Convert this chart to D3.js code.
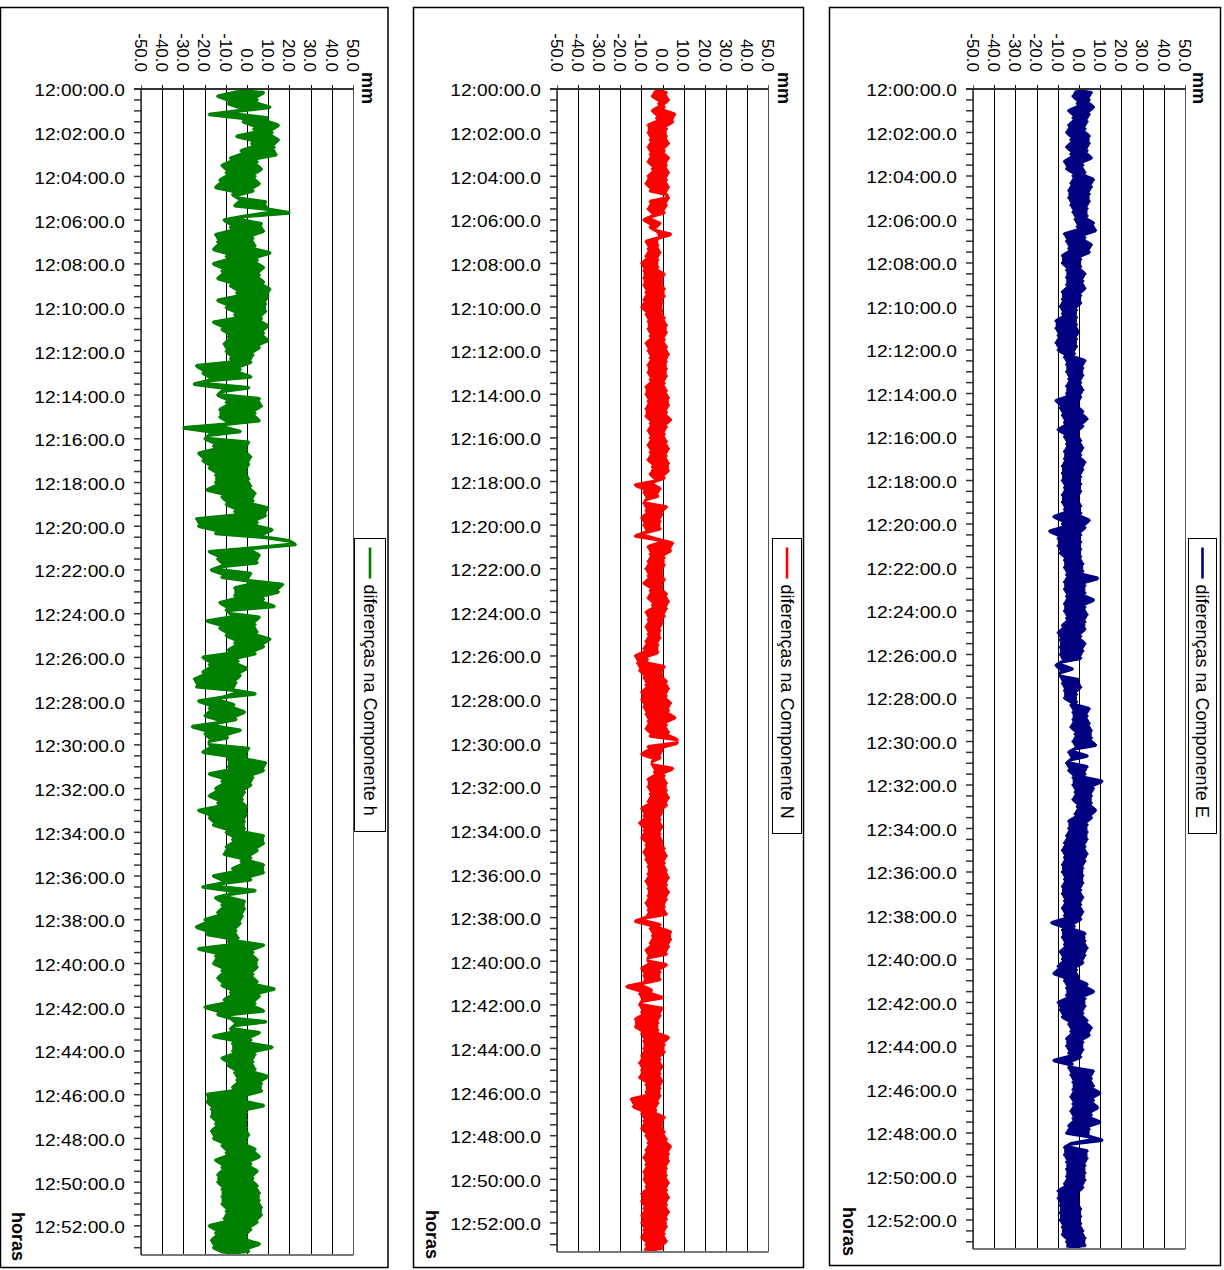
<!DOCTYPE html>
<html>
<head>
<meta charset="utf-8">
<script src="https://cdn.jsdelivr.net/npm/d3@7"></script>
<style>
  body { margin: 0; background: #fff; }
  text { font-family: "Liberation Sans", Arial, sans-serif; fill: #000; }
</style>
</head>
<body>
<div id="chart"></div>
<script>
// sample interval of the series, seconds (12:00:00 .. 12:53:20)
const stepSec = 10;
const endSec = 3200;

const valueTicks = [-50, -40, -30, -20, -10, 0, 10, 20, 30, 40, 50];
const timeTicks = ["12:00:00.0", "12:02:00.0", "12:04:00.0", "12:06:00.0", "12:08:00.0",
  "12:10:00.0", "12:12:00.0", "12:14:00.0", "12:16:00.0", "12:18:00.0", "12:20:00.0",
  "12:22:00.0", "12:24:00.0", "12:26:00.0", "12:28:00.0", "12:30:00.0", "12:32:00.0",
  "12:34:00.0", "12:36:00.0", "12:38:00.0", "12:40:00.0", "12:42:00.0", "12:44:00.0",
  "12:46:00.0", "12:48:00.0", "12:50:00.0", "12:52:00.0"];

const seriesNames = ["diferenças na Componente h", "diferenças na Componente N", "diferenças na Componente E"];
const seriesColors = ["#008000", "#ff0000", "#000080"];

// differences in mm, one value every 10 s (one row = one minute)
const hVals = [
  -6, 8, -14, 5, -9, 11,   -4, -18, 10, -2, 15, 3,   12, -5, 15, 2, 13, -3,
  14, -8, 5, -12, 7, -10,  4, -13, 6, -15, 3, -7,    -4, 9, -6, 10, 20, -2,
  -11, 7, -8, 8, -15, 3,   -14, 4, -16, 11, -10, 5,  -16, 8, -12, 6, -14, 8,
  -8, 11, -5, 10, -14, 9,  -10, 9, -6, 7, -16, 10,   -12, 8, -9, 10, -11, 6,
  -10, 3, -8, 2, -24, -3,  -21, 2, -18, -25, 1, -12, -14, 6, -10, 7, -13, 4,
  -13, 6, -10, -30, -3, -18, -20, 1, -16, 0, -23, 2, -21, 1, -18, 0, -15, 1,
  -15, 2, -19, 4, -12, 3,  -10, 10, -6, 9, -24, 5,   -23, 12, -15, 8, 20, 23,
  3, -18, 6, -14, 5, -12,  -17, 2, -12, 1, 17, -6,   15, -6, 8, -13, 13, -10,
  -8, 6, -19, 4, -13, 5,   -10, 11, -6, 8, -9, 4,    -21, -4, -18, 0, -21, -3,
  -25, -5, -24, -6, 4, -12, -23, -6, -18, -1, -20, -5, -14, -26, -3, -20, -9, -18,
  -18, 1, -21, 0, -9, 9,   -9, 8, -18, 3, -12, 2,    -15, -1, -18, -2, -14, 0,
  -23, 0, -18, -1, -16, -1, -10, 8, -7, 8, -10, 5,   -11, 2, -3, 8, -7, 8,
  -16, 2, -12, -21, 4, -8, -15, -1, -12, -1, -14, -2, -20, -3, -24, -5, -19, -4,
  -9, 8, -23, 3, -15, 5,   -16, 5, -12, 3, -14, 5,   -12, 13, -8, 6, -11, 4,
  -20, 8, -14, -8, 9, -6,  -8, 6, -16, 2, -7, 12,    -7, 4, -12, 3, -9, 4,
  -6, 10, -5, 7, -7, 7,    -19, 0, -19, 8, -17, 0,   -17, 0, -15, 0, -17, 1,
  -16, 0, -12, 4, -10, 6,  -15, 2, -12, 5, -14, 3,   -14, 5, -12, 6, -12, 6,
  -12, 7, -10, 7, -11, 5,  -18, 2, -15, 0, -17, 6,   -16, 1, -12
];

const nVals = [
  -4, 2, -5, 3, -2, 1,     -5, 6, -3, 5, -7, 2,      -7, 2, -6, 3, -7, 1,
  -6, 3, -7, 2, -5, 3,     -7, 2, -8, 3, -6, 2,      3, -6, 2, -7, 1, -5,
  -9, -1, -6, -3, 4, -2,   -8, -2, -7, -1, -8, -2,   -10, -2, -9, 1, -9, 0,
  -9, 1, -8, 1, -9, 0,     -10, 0, -8, 1, -7, 2,     -7, 2, -6, 1, -8, 2,
  -7, 3, -6, 2, -7, 2,     -7, 2, -6, 1, -8, 2,      -8, 3, -7, 3, -8, 2,
  -8, 4, -6, 2, -7, 1,     -6, 2, -7, 3, -6, 2,      -7, 3, -5, 3, -6, 1,
  -4, -13, -1, -9, -2, -8, -9, 2, -8, 0, -10, -1,    -9, -1, -8, -13, -2, 5,
  -7, 4, -6, 1, -7, 1,     -8, 0, -7, 1, -9, 0,      -6, 2, -7, 3, -5, 2,
  -8, 1, -7, 0, -8, -1,    -7, -1, -8, -2, -9, -2,   -13, -7, -12, 1, -11, 0,
  -9, 2, -8, 3, -10, 2,    -10, 4, -9, 3, -8, 6,     -7, 2, -8, 3, -6, 7,
  7, -7, 0, -10, -1, -5,   -5, 5, -4, 1, -7, 2,      -7, 2, -6, 3, -7, 2,
  -10, 0, -9, -1, -11, 0,  -9, -1, -10, 0, -8, 1,    -9, 2, -8, 1, -7, 2,
  -7, 3, -8, 2, -7, 3,     -7, 2, -8, 1, -7, 2,      -8, -13, -1, -6, 4, -5,
  4, -6, 3, -8, 2, -7,     -7, 2, -10, -1, -9, -1,   -9, -17, -5, -11, 0, -10,
  -11, 0, -10, -1, -13, -2, -13, -2, -10, 3, -9, 1,  -9, 1, -10, -1, -11, 0,
  -10, -1, -11, 0, -8, -1, -8, -1, -15, -2, -14, -3, -10, 1, -9, 0, -10, 1,
  -8, 2, -7, 4, -8, 3,     -9, 3, -8, 2, -9, 2,      -9, 3, -8, 2, -10, 3,
  -10, 2, -9, 3, -10, 2,   -10, 2, -9, 1, -10, 2,    -8, 0, -9
];

const eVals = [
  -2, 6, -3, 5, -1, 7,     -5, 5, -3, 4, -5, 3,      -6, 5, -4, 5, -6, 4,
  -4, 6, -7, 2, -6, 3,     -3, 7, -4, 6, -5, 5,      -5, 5, -4, 4, -3, 4,
  -2, 7, -1, 8, -7, 3,     -6, 6, -5, 5, -8, 1,      -8, 1, -6, 3, -6, 2,
  -6, 3, -8, 1, -8, 1,     -9, -1, -8, -1, -11, -1,  -11, 0, -10, -1, -11, -1,
  -10, -2, -7, 3, -6, 2,   -6, 2, -5, 1, -6, 2,      -6, 1, -11, 0, -9, 2,
  -8, 4, -7, 2, -10, 0,    -7, 1, -6, 2, -7, 1,      -7, 3, -8, 2, -8, 1,
  -8, 1, -7, 1, -8, 0,     -8, 1, -7, 1, -12, 5,     -8, 3, -14, 1, -10, 1,
  -10, 1, -9, 1, -7, 2,    -7, 2, -6, 9, -7, 3,      -7, 3, -6, 7, -7, 3,
  -7, 4, -6, 3, -8, 3,     -10, 1, -9, 3, -9, 2,     -9, 1, -8, -11, -3, -9,
  -9, 0, -8, 1, -7, -1,    -7, -1, -4, 5, -3, 4,     -3, 5, -4, 6, -2, 6,
  -3, 8, -2, -5, 4, -4,    -6, 4, -5, 3, -3, 11,     -3, 7, -2, 6, -3, 6,
  -1, 8, -2, 6, -5, 4,     -5, 4, -6, 4, -7, 3,      -8, 4, -7, 3, -8, 2,
  -8, 2, -7, 2, -8, 1,     -8, 2, -7, 1, -8, 2,      -7, 1, -13, -2, -8, 3,
  -8, 3, -7, 4, -9, 3,     -8, 2, -10, -1, -12, 0,   -7, 4, -6, 7, -6, 3,
  -10, 3, -9, 2, -8, 4,    -5, 6, -4, 5, -6, 2,      -6, 2, -5, 1, -12, -3,
  -5, 7, -4, 6, -3, 7,     -3, 10, -4, 7, -3, 9,     -4, 6, -3, 10, -5, 5,
  -6, 5, 11, -4, -7, 4,    -7, 4, -6, 3, -6, 3,      -6, 3, -7, 2, -10, 0,
  -10, 0, -9, 1, -9, 1,    -9, 1, -8, 2, -8, 3,      -6, 3, -6
];

const seriesValues = [hVals, nVals, eVals];

// layout of the three panels (pixels)
const panels = [
  { box: [0.5, 7.5, 387.5, 1260], left: 141, right: 353, top: 89, bottom: 1255,
    legend: [354.5, 538.5, 31, 293], mmX: 368, horas: [18, 1212] },
  { box: [413.5, 7.5, 390, 1260], left: 557, right: 768, top: 89, bottom: 1252,
    legend: [772.5, 538.5, 29, 295], mmX: 784, horas: [432, 1210] },
  { box: [829.5, 7.5, 391, 1258], left: 973, right: 1185, top: 89, bottom: 1249,
    legend: [1188.5, 538.5, 28, 295], mmX: 1199, horas: [849, 1207] }
];

const svg = d3.select("#chart")
  .append("svg")
  .attr("width", 1224)
  .attr("height", 1270);

panels.forEach(function(p, i) {
  var g = svg.append("g");

  var x = d3.scaleLinear().domain([-50, 50]).range([p.left, p.right]);
  var y = d3.scaleLinear().domain([0, endSec]).range([p.top, p.bottom]);

  // outer frame
  g.append("rect")
    .attr("x", p.box[0]).attr("y", p.box[1])
    .attr("width", p.box[2]).attr("height", p.box[3])
    .attr("fill", "none").attr("stroke", "#000").attr("stroke-width", 1.5);

  // vertical grid lines (also the ticks of the top axis)
  g.selectAll(".grid")
    .data(valueTicks)
    .enter()
    .append("line")
      .attr("x1", d => Math.round(x(d)) + 0.5)
      .attr("x2", d => Math.round(x(d)) + 0.5)
      .attr("y1", p.top - 4)
      .attr("y2", p.bottom)
      .attr("stroke", (d, j) => (j == 0 || j == valueTicks.length - 1) ? "#555" : "#000")
      .attr("stroke-width", 1);

  // top axis labels, rotated
  g.selectAll(".vlab")
    .data(valueTicks)
    .enter()
    .append("text")
      .attr("transform", d => "translate(" + x(d) + "," + (p.top - 17) + ") rotate(90)")
      .attr("text-anchor", "end")
      .attr("dy", "0.36em")
      .attr("font-size", "17px")
      .text(d => d.toFixed(1));

  // the series: dense band between neighbouring samples, then the line itself
  var vals = seriesValues[i];
  var band = d3.pairs(vals).map((pr, k) => ({
    t: (k + 0.5) * stepSec,
    lo: Math.min(pr[0], pr[1]),
    hi: Math.max(pr[0], pr[1])
  }));

  g.append("path")
    .datum(band)
    .attr("d", d3.area().y(d => y(d.t)).x0(d => x(d.lo)).x1(d => x(d.hi)))
    .attr("fill", seriesColors[i])
    .attr("stroke", "none");

  var line = d3.line()
    .x(d => x(d))
    .y((d, k) => y(k * stepSec));

  g.append("path")
    .datum(vals)
    .attr("d", line)
    .attr("fill", "none")
    .attr("stroke", seriesColors[i])
    .attr("stroke-width", 2.4)
    .attr("stroke-linejoin", "round");

  // frame of the plot area
  g.append("line")
    .attr("x1", p.left - 7).attr("x2", p.right + 0.5)
    .attr("y1", p.top).attr("y2", p.top)
    .attr("stroke", "#333").attr("stroke-width", 2);
  g.append("line")
    .attr("x1", p.left).attr("x2", p.right + 0.5)
    .attr("y1", p.bottom).attr("y2", p.bottom)
    .attr("stroke", "#777").attr("stroke-width", 2);
  g.append("line")
    .attr("x1", p.left).attr("x2", p.left)
    .attr("y1", p.top).attr("y2", p.bottom)
    .attr("stroke", "#333").attr("stroke-width", 1.5);

  // time axis: ticks each 30 s, labels each 2 min
  g.selectAll(".tick")
    .data(d3.range(0, endSec + 1, 30))
    .enter()
    .append("line")
      .attr("x1", p.left - 7).attr("x2", p.left)
      .attr("y1", d => y(d)).attr("y2", d => y(d))
      .attr("stroke", "#333").attr("stroke-width", 1.5);

  g.selectAll(".tlab")
    .data(timeTicks)
    .enter()
    .append("text")
      .attr("transform", d => "translate(" + (p.left - 16) + "," + y(+d.slice(3, 5) * 60) + ") scale(1.13,1)")
      .attr("text-anchor", "end")
      .attr("dy", "0.44em")
      .attr("font-size", "17px")
      .text(d => d);

  // unit labels
  g.append("text")
    .attr("transform", "translate(" + p.mmX + "," + (p.top - 17) + ") rotate(90)")
    .attr("dy", "0.36em")
    .attr("font-size", "18px")
    .attr("font-weight", "bold")
    .text("mm");

  g.append("text")
    .attr("transform", "translate(" + p.horas[0] + "," + p.horas[1] + ") rotate(90)")
    .attr("dy", "0.36em")
    .attr("font-size", "18px")
    .attr("font-weight", "bold")
    .text("horas");

  // legend
  var lg = p.legend;
  var cx = lg[0] + lg[2] / 2;
  g.append("rect")
    .attr("x", lg[0]).attr("y", lg[1])
    .attr("width", lg[2]).attr("height", lg[3])
    .attr("fill", "#fff").attr("stroke", "#000").attr("stroke-width", 1);
  g.append("line")
    .attr("x1", cx).attr("x2", cx)
    .attr("y1", lg[1] + 9).attr("y2", lg[1] + 40)
    .attr("stroke", seriesColors[i]).attr("stroke-width", 2.6);
  g.append("text")
    .attr("transform", "translate(" + cx + "," + (lg[1] + 46) + ") rotate(90)")
    .attr("dy", "0.36em")
    .attr("font-size", "18px")
    .text(seriesNames[i]);
});
</script>
</body>
</html>
